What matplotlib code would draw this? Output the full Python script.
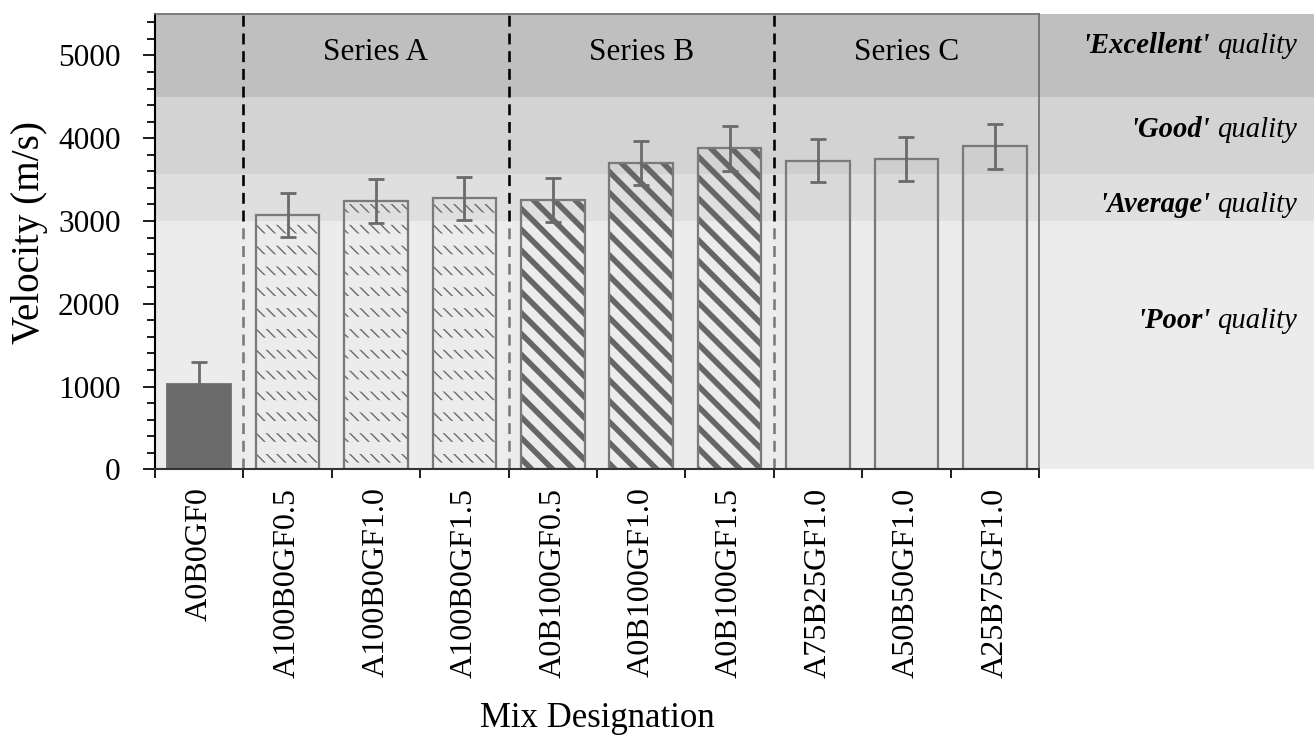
import numpy as np
import matplotlib
matplotlib.use("Agg")
import matplotlib.pyplot as plt
from matplotlib.ticker import MultipleLocator

# ---------------- data ----------------
categories = ["A0B0GF0", "A100B0GF0.5", "A100B0GF1.0", "A100B0GF1.5",
              "A0B100GF0.5", "A0B100GF1.0", "A0B100GF1.5",
              "A75B25GF1.0", "A50B50GF1.0", "A25B75GF1.0"]
velocity = [1033, 3069, 3242, 3274, 3250, 3705, 3878, 3729, 3745, 3902]
errors = [258, 266, 268, 263, 267, 265, 272, 263, 267, 274]
groups = ["ctrl", "A", "A", "A", "B", "B", "B", "C", "C", "C"]
series_names = {"A": "Series A", "B": "Series B", "C": "Series C"}

band_limits = [0, 3000, 3570, 4500, 5500]
band_names = ["Poor", "Average", "Good", "Excellent"]
band_colors = ["#ececec", "#dfdfdf", "#d3d3d3", "#bfbfbf"]
band_label_base = [1705, 3109, 4014, 5024]

# ---------------- figure ----------------
DPI = 125
W, H = 1314, 735
plt.rcParams["font.family"] = ["Liberation Serif", "DejaVu Serif"]
fig = plt.figure(figsize=(W / DPI, H / DPI), dpi=DPI)
L, R, T, B = 155, 1039, 14, 469.3
ax = fig.add_axes([L / W, 1 - B / H, (R - L) / W, (B - T) / H])

n = len(categories)
x = np.arange(n)
v = np.array(velocity, dtype=float)
e = np.array(errors, dtype=float)
g = np.array(groups)
ax.set_xlim(-0.5, n - 0.5)
ax.set_ylim(0, band_limits[-1])

xmax_ext = (W - L) / (R - L)
for lo, hi, c in zip(band_limits[:-1], band_limits[1:], band_colors):
    ax.axhspan(lo, hi, xmin=0, xmax=xmax_ext, color=c, lw=0, zorder=0, clip_on=False)

# separators between groups
seps = [i - 0.5 for i in range(1, n) if groups[i] != groups[i - 1]]
for xs in seps:
    ax.plot([xs, xs], [band_limits[1], band_limits[-1]], color="black", lw=1.5,
            dashes=(4.2, 2.6), zorder=1)
    ax.plot([xs, xs], [0, band_limits[1]], color="#7a7a7a", lw=1.5,
            dashes=(4.2, 2.6), zorder=1)

BW = 0.72
EDGE = "#7a7a7a"


def set_hlw(bars, lw):
    for p in bars:
        if hasattr(p, "set_hatch_linewidth"):
            p.set_hatch_linewidth(lw)


# control bar
m = g == "ctrl"
ax.bar(x[m], v[m], BW, color="#6b6b6b", edgecolor="#6b6b6b", lw=1.0, zorder=2)

# series A: dashed diagonal texture
m = g == "A"
with plt.rc_context({"hatch.linewidth": 0.8}):
    bA = ax.bar(x[m], v[m], BW, facecolor="none", edgecolor="#6a6a6a", lw=0,
                hatch="\\\\\\\\", zorder=2)
set_hlw(bA, 0.8)
with plt.rc_context({"hatch.linewidth": 7.0}):
    mk1 = ax.bar(x[m], np.minimum(v[m], band_limits[1]), BW, facecolor="none",
                 edgecolor=band_colors[0], lw=0, hatch="-", zorder=2.1)
    mk2 = ax.bar(x[m], np.clip(v[m] - band_limits[1], 0, None), BW,
                 bottom=band_limits[1], facecolor="none",
                 edgecolor=band_colors[1], lw=0, hatch="-", zorder=2.1)
set_hlw(mk1, 7.0)
set_hlw(mk2, 7.0)
ax.bar(x[m], v[m], BW, facecolor="none", edgecolor=EDGE, lw=1.3, zorder=2.2)

# series B: thick diagonal stripes
m = g == "B"
with plt.rc_context({"hatch.linewidth": 3.2}):
    bB = ax.bar(x[m], v[m], BW, facecolor="none", edgecolor="#666666", lw=0,
                hatch="\\\\", zorder=2)
set_hlw(bB, 3.2)
ax.bar(x[m], v[m], BW, facecolor="none", edgecolor=EDGE, lw=1.3, zorder=2.2)

# series C: plain
m = g == "C"
ax.bar(x[m], v[m], BW, facecolor=(0, 0, 0, 0.025), edgecolor=EDGE, lw=1.3, zorder=2.2)

ax.errorbar(x, v, yerr=e, fmt="none", ecolor="#6a6a6a", elinewidth=1.6,
            capsize=4.8, capthick=1.6, zorder=5)

# series labels
for key, name in series_names.items():
    ax.text(x[g == key].mean(), 5036, name, ha="center", va="center",
            fontsize=18, zorder=6)

# quality labels
for name, yb in zip(band_names, band_label_base):
    t2 = ax.text((1297 - L) / (R - L), yb, "quality", transform=ax.get_yaxis_transform(),
                 ha="right", va="baseline", style="italic", fontsize=16.5, clip_on=False)
    ax.annotate(f"'{name}'", xy=(0, yb), xycoords=(t2, "data"), xytext=(-4, 0),
                textcoords="offset points", ha="right", va="baseline",
                style="italic", weight="bold", fontsize=16.5, annotation_clip=False)

# spines
for s in ["top", "right"]:
    ax.spines[s].set_color("#707070")
    ax.spines[s].set_linewidth(1.0)
ax.spines["left"].set_color("black")
ax.spines["left"].set_linewidth(1.2)
ax.spines["bottom"].set_color("#333333")
ax.spines["bottom"].set_linewidth(1.2)
for s in ax.spines.values():
    s.set_zorder(4)

# x ticks
ax.set_xticks(np.arange(n + 1) - 0.5)
ax.set_xticklabels([])
ax.set_xticks(x, categories, minor=True, rotation=90, fontsize=18.5)
ax.tick_params(axis="x", which="major", direction="out", length=5.2, width=1.0, color="black")
ax.tick_params(axis="x", which="minor", length=0, pad=10.5)

# y ticks
ax.set_yticks(np.arange(0, 5001, 1000))
ax.yaxis.set_minor_locator(MultipleLocator(200))
ax.tick_params(axis="y", which="major", direction="out", length=6.9, width=1.0,
               labelsize=18, pad=13, color="black")
ax.tick_params(axis="y", which="minor", direction="out", length=4.6, width=1.0, color="black")

ax.set_ylabel("Velocity (m/s)", fontsize=22.5)
ax.yaxis.set_label_coords((30 - L) / (R - L), (B - 232) / (B - T))
ax.yaxis.label.set_va("center")
ax.set_xlabel("Mix Designation", fontsize=20)
ax.xaxis.set_label_coords(0.5, (B - 718) / (B - T))
ax.xaxis.label.set_va("center")

fig.savefig("out.png", dpi=DPI)
